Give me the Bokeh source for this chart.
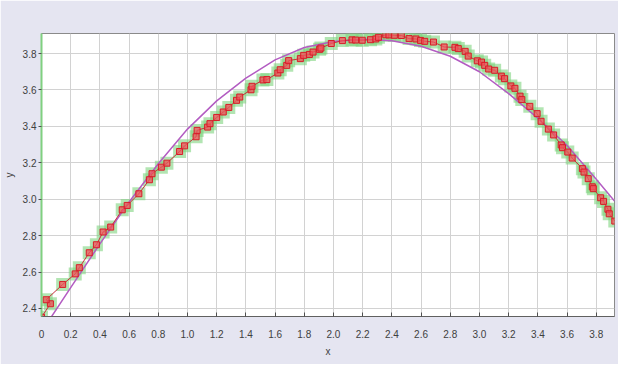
from bokeh.plotting import figure
from bokeh.models import FixedTicker, Range1d, ColumnDataSource
from bokeh.embed import file_html
from bokeh.resources import INLINE

# ---- data ----
x_data = [0.000, 0.061, 0.032, 0.145, 0.231, 0.259, 0.327, 0.376, 0.422, 0.474,
          0.553, 0.587, 0.667, 0.739, 0.757, 0.821, 0.859, 0.946, 0.980, 1.059,
          1.066, 1.138, 1.154, 1.200, 1.245, 1.283, 1.336, 1.358, 1.435, 1.442,
          1.517, 1.544, 1.619, 1.635, 1.680, 1.693, 1.773, 1.796, 1.835, 1.860,
          1.905, 1.914, 1.985, 2.061, 2.127, 2.152, 2.197, 2.254, 2.290, 2.308,
          2.358, 2.380, 2.417, 2.465, 2.518, 2.565, 2.596, 2.625, 2.685, 2.758,
          2.832, 2.855, 2.902, 2.923, 2.985, 3.014, 3.036, 3.063, 3.104, 3.150,
          3.172, 3.215, 3.243, 3.278, 3.290, 3.345, 3.395, 3.422, 3.472, 3.508,
          3.560, 3.569, 3.605, 3.635, 3.705, 3.716, 3.745, 3.773, 3.780, 3.830,
          3.850, 3.880, 3.889, 3.927]
y_data = [2.352, 2.426, 2.448, 2.532, 2.590, 2.624, 2.706, 2.750, 2.820, 2.847,
          2.942, 2.966, 3.030, 3.107, 3.140, 3.176, 3.198, 3.262, 3.293, 3.343,
          3.378, 3.396, 3.415, 3.449, 3.479, 3.504, 3.543, 3.561, 3.601, 3.620,
          3.655, 3.657, 3.693, 3.711, 3.735, 3.761, 3.772, 3.790, 3.795, 3.808,
          3.823, 3.830, 3.855, 3.871, 3.875, 3.874, 3.873, 3.876, 3.880, 3.889,
          3.903, 3.902, 3.900, 3.899, 3.882, 3.880, 3.872, 3.867, 3.863, 3.836,
          3.834, 3.827, 3.812, 3.786, 3.760, 3.753, 3.735, 3.715, 3.708, 3.676,
          3.662, 3.622, 3.609, 3.566, 3.547, 3.510, 3.470, 3.428, 3.385, 3.353,
          3.298, 3.283, 3.259, 3.226, 3.168, 3.149, 3.113, 3.068, 3.058, 3.008,
          2.988, 2.945, 2.920, 2.880]

fit_x = [0.0, 0.066, 0.2, 0.4, 0.6, 0.8, 1.0, 1.2, 1.4, 1.6, 1.8, 2.0, 2.2,
         2.4, 2.6, 2.8, 3.0, 3.2, 3.4, 3.6, 3.8, 3.925]
fit_y = [2.27, 2.352, 2.515, 2.755, 2.985, 3.195, 3.385, 3.54, 3.665, 3.765,
         3.833, 3.866, 3.878, 3.87, 3.84, 3.785, 3.70, 3.58, 3.445, 3.295,
         3.11, 2.99]

x_ticks = [0.0, 0.2, 0.4, 0.6, 0.8, 1.0, 1.2, 1.4, 1.6, 1.8, 2.0, 2.2, 2.4,
           2.6, 2.8, 3.0, 3.2, 3.4, 3.6, 3.8]
x_tick_labels = ["0", "0.2", "0.4", "0.6", "0.8", "1.0", "1.2", "1.4", "1.6",
                 "1.8", "2.0", "2.2", "2.4", "2.6", "2.8", "3.0", "3.2", "3.4",
                 "3.6", "3.8"]
y_ticks = [2.4, 2.6, 2.8, 3.0, 3.2, 3.4, 3.6, 3.8]
y_tick_labels = ["2.4", "2.6", "2.8", "3.0", "3.2", "3.4", "3.6", "3.8"]

FONT = "Liberation Sans"
BG = "#e5e5f1"

p = figure(width=618, height=364, output_backend="svg", toolbar_location=None,
           x_range=Range1d(0, 3.925), y_range=Range1d(2.356, 3.91),
           x_axis_label="x", y_axis_label="y",
           min_border_left=36, min_border_right=4, min_border_top=33,
           min_border_bottom=48)
p.border_fill_color = BG
p.background_fill_color = "white"
p.outline_line_color = "#8a8a8a"

xt = FixedTicker(ticks=x_ticks)
yt = FixedTicker(ticks=y_ticks)
p.xaxis.ticker = xt
p.yaxis.ticker = yt
p.xaxis.major_label_overrides = {t: l for t, l in zip(x_ticks, x_tick_labels)}
p.yaxis.major_label_overrides = {t: l for t, l in zip(y_ticks, y_tick_labels)}
p.xgrid.ticker = xt
p.ygrid.ticker = yt
p.grid.grid_line_color = "#d2d2d2"
p.grid.grid_line_width = 1

for ax in (p.xaxis[0], p.yaxis[0]):
    ax.major_label_text_font = FONT
    ax.major_label_text_font_size = "10px"
    ax.major_label_text_color = "#404040"
    ax.axis_label_text_font = FONT
    ax.axis_label_text_font_size = "10px"
    ax.axis_label_text_font_style = "normal"
    ax.axis_label_text_color = "#404040"
    ax.minor_tick_line_color = None
    ax.major_tick_line_color = "#505050"

p.xaxis.axis_line_color = "#606060"
p.xaxis.major_tick_in = 4
p.xaxis.major_tick_out = 0
p.xaxis.major_label_standoff = 13
p.xaxis.axis_label_standoff = 5

p.yaxis.axis_line_color = "#80d080"
p.yaxis.axis_line_width = 2
p.yaxis.major_tick_in = 0
p.yaxis.major_tick_out = 3
p.yaxis.major_label_standoff = 2
p.yaxis.axis_label_standoff = 5

src = ColumnDataSource(dict(x=x_data, y=y_data))
p.scatter("x", "y", source=src, marker="square", size=13,
          fill_color="#7fd37f", fill_alpha=0.6, line_color=None)
p.line(fit_x, fit_y, line_color="#b35cc2", line_width=1.5)
p.line("x", "y", source=src, line_color="#c8303a", line_width=1)
p.scatter("x", "y", source=src, marker="square", size=6,
          fill_color="#f2545c", fill_alpha=0.75, line_color="#d81c28", line_width=1)

open("out.html", "w").write(file_html(p, INLINE))
